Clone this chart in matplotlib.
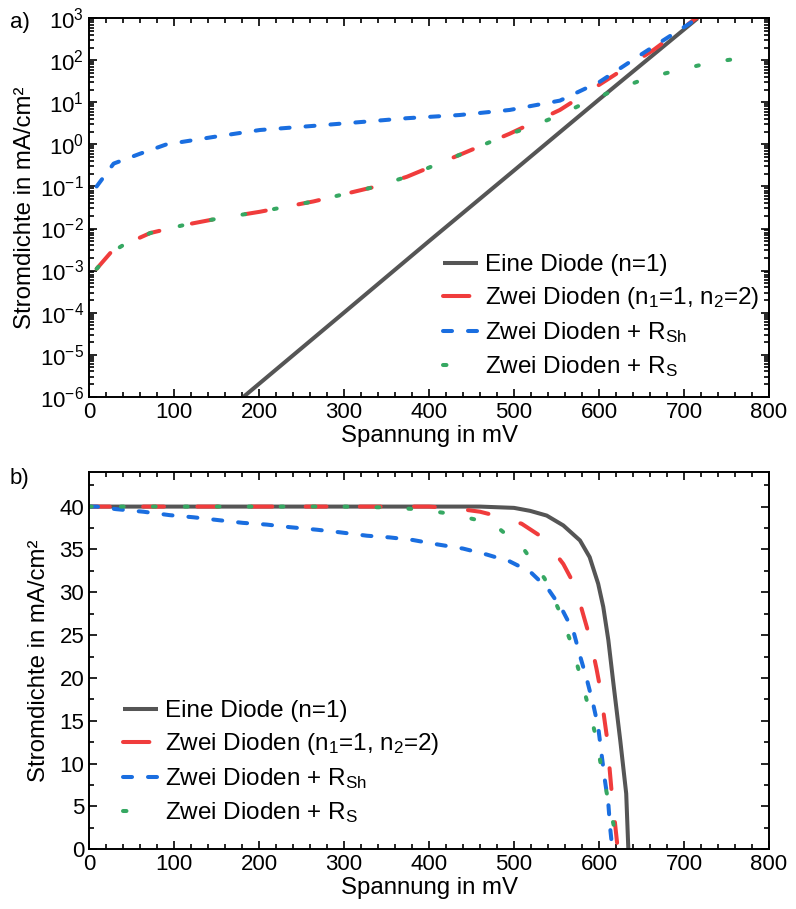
import matplotlib
matplotlib.use("Agg")
from matplotlib import pyplot as plt
from matplotlib.ticker import MultipleLocator, LogLocator, NullFormatter

# ---- a) dark characteristic (log) ----
v_one_a = [182, 300, 400, 500, 600, 716]
j_one_a = [1e-6, 1.0e-4, 5.0e-3, 0.24, 11.7, 1000]

v_two_a = [9, 25, 40, 72, 111, 150, 201, 264, 338, 374, 440, 495, 554, 609, 664, 711, 720]
j_two_a = [1.1e-3, 2.6e-3, 4e-3, 7.8e-3, 1.2e-2, 1.7e-2, 2.5e-2, 4.4e-2, 0.1, 0.17, 0.61,
           1.8, 6.6, 34, 176, 900, 1200]

v_sh_a = [9, 29, 60, 91, 146, 201, 268, 327, 374, 436, 495, 554, 601, 652, 707, 720]
j_sh_a = [0.1, 0.35, 0.6, 1.0, 1.5, 2.2, 2.8, 3.5, 4.2, 5.0, 6.6, 11, 31, 148, 760, 1200]

v_rs_a = [9, 25, 40, 72, 111, 150, 201, 264, 338, 374, 440, 495, 515, 554, 589, 625, 660,
          699, 734, 774, 780]
j_rs_a = [1.1e-3, 2.6e-3, 4e-3, 7.8e-3, 1.2e-2, 1.7e-2, 2.5e-2, 4.4e-2, 0.1, 0.17, 0.61,
          1.8, 2.4, 5.0, 11, 22, 40, 62, 91, 117, 122]

# ---- b) illuminated characteristic ----
v_one_b = [0, 100, 200, 300, 400, 460, 500, 519, 538.5, 558, 577.6, 589, 599, 605, 611, 617,
           625, 632, 634.5]
j_one_b = [40, 40, 40, 40, 40, 40, 39.85, 39.5, 38.95, 37.8, 36.05, 34.1, 31.0, 28.3, 24.4,
           19.3, 12.7, 6.5, 0]

v_two_b = [0, 100, 200, 300, 400, 430, 460, 476, 509, 532, 545, 558, 572, 582, 589.5, 597,
           601, 609, 614.5, 621, 622]
j_two_b = [40, 40, 40, 40, 40, 39.8, 39.4, 39.0, 38.0, 36.5, 35.0, 33.3, 30.7, 27.2, 24.6,
           21.1, 19.0, 13.3, 7.1, 1.0, 0]

v_sh_b = [0, 9, 32, 64, 95, 123, 154, 181, 209, 236, 268, 295, 327, 354, 381, 409, 440, 468,
          495, 519, 540, 556, 570, 577.6, 585.5, 593, 599, 603, 607, 611, 613, 615.7]
j_sh_b = [40, 40, 39.7, 39.4, 39.0, 38.75, 38.4, 38.1, 37.9, 37.6, 37.3, 37.0, 36.6, 36.4,
          36.1, 35.6, 35.1, 34.4, 33.6, 32.4, 30.4, 28.1, 25.4, 22.6, 19.9, 17.0, 14.3, 11.1,
          8.0, 5.3, 2.6, 0]

v_rs_b = [0, 100, 200, 300, 350, 385, 423, 454, 481.6, 511, 536, 552.5, 566, 577, 586.6, 596,
          603, 611, 619, 620]
j_rs_b = [40, 40, 40, 40, 39.9, 39.7, 39.2, 38.5, 37.5, 35.1, 31.6, 28.0, 24.4, 20.6, 17.0,
          13.3, 9.4, 5.7, 2.0, 0]

labels = ["Eine Diode (n=1)", "Zwei Dioden (n$_1$=1, n$_2$=2)",
          "Zwei Dioden + R$_{Sh}$", "Zwei Dioden + R$_S$"]
colors = ["#555555", "#f03c3c", "#1a6ee0", "#36a862"]

plt.rcParams["font.family"] = ["Liberation Sans", "DejaVu Sans"]
plt.rcParams["font.size"] = 16
plt.rcParams["mathtext.fontset"] = "custom"
plt.rcParams["mathtext.rm"] = "Liberation Sans"
plt.rcParams["mathtext.it"] = "Liberation Sans"
plt.rcParams["mathtext.default"] = "regular"
plt.rcParams["lines.scale_dashes"] = False

fig = plt.figure(figsize=(7.96, 9.09), dpi=100)
ax1 = fig.add_axes([0.1118, 0.5636, 0.8543, 0.4163])
ax2 = fig.add_axes([0.1118, 0.0657, 0.8543, 0.4147])

lw = 2.9


def draw(ax, data):
    ax.plot(data[0][0], data[0][1], color=colors[0], lw=lw, label=labels[0],
            solid_capstyle="butt", solid_joinstyle="round")
    ax.plot(data[1][0], data[1][1], color=colors[1], lw=lw, label=labels[1],
            dashes=(15, 24), dash_capstyle="round")
    ax.plot(data[2][0], data[2][1], color=colors[2], lw=lw, label=labels[2],
            dashes=(6.5, 11.5), dash_capstyle="round")
    ax.plot(data[3][0], data[3][1], color=colors[3], lw=lw, label=labels[3],
            dashes=(2, 21), dash_capstyle="round")


draw(ax1, [(v_one_a, j_one_a), (v_two_a, j_two_a), (v_sh_a, j_sh_a), (v_rs_a, j_rs_a)])
draw(ax2, [(v_one_b, j_one_b), (v_two_b, j_two_b), (v_sh_b, j_sh_b), (v_rs_b, j_rs_b)])

ax1.set_yscale("log")
ax1.set_ylim(1e-6, 1e3)
ax1.yaxis.set_major_locator(LogLocator(base=10, numticks=20))
ax1.yaxis.set_minor_locator(LogLocator(base=10, subs=range(2, 10), numticks=20))
ax1.yaxis.set_minor_formatter(NullFormatter())

ax2.set_ylim(0, 44)
ax2.yaxis.set_major_locator(MultipleLocator(5))
ax2.yaxis.set_minor_locator(MultipleLocator(2.5))

for ax in (ax1, ax2):
    ax.set_xlim(0, 800)
    ax.xaxis.set_major_locator(MultipleLocator(100))
    ax.xaxis.set_minor_locator(MultipleLocator(20))
    ax.tick_params(which="both", direction="in", top=True, right=True, width=1.2)
    ax.tick_params(which="major", length=6)
    ax.tick_params(which="minor", length=3.5)
    for s in ax.spines.values():
        s.set_linewidth(1.4)
    ax.set_xlabel("Spannung in mV", fontsize=17.3, labelpad=1.5)

ax1.set_ylabel("Stromdichte in mA/cm²", fontsize=17.3, labelpad=3)
ax2.set_ylabel("Stromdichte in mA/cm²", fontsize=17.3, labelpad=7)

leg_kw = dict(loc="upper left", frameon=False, borderpad=0, borderaxespad=0,
              handlelength=1.45, handletextpad=0.29, labelspacing=0.37, fontsize=17.5)
for ax, anchor in ((ax1, (0.52, 0.376)), (ax2, (0.05, 0.395))):
    leg = ax.legend(bbox_to_anchor=anchor, **leg_kw)
    hl = leg.get_lines()
    hl[1].set_dashes((19, 30))   # one long red dash in the key
    hl[3].set_dashes((2.5, 40))  # a single green dot in the key

fig.text(0.012, 0.975, "a)", fontsize=16, va="center")
fig.text(0.012, 0.474, "b)", fontsize=16, va="center")

fig.savefig("out.png", dpi=100)
